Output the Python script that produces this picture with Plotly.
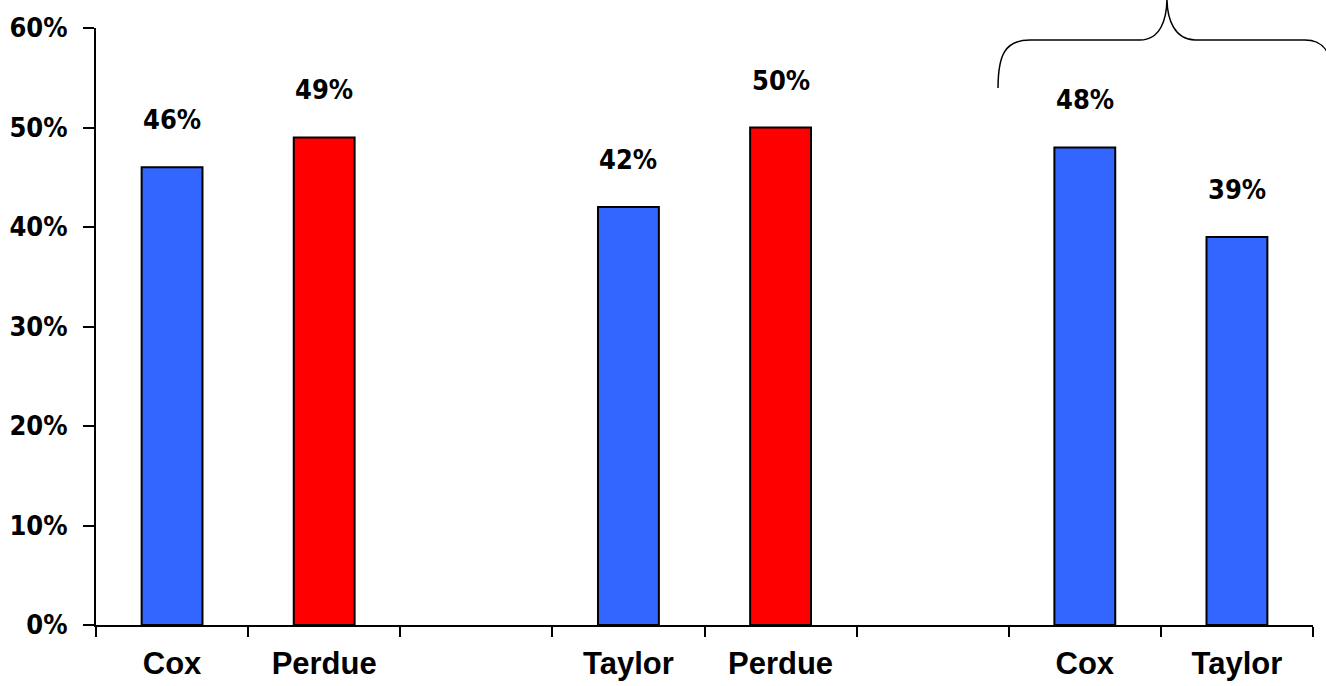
import plotly.graph_objects as go

# ---- data ----
labels = ["Cox", "Perdue", "", "Taylor", "Perdue", "", "Cox", "Taylor"]
values = [46, 49, None, 42, 50, None, 48, 39]
colors = ["#3366FF", "#FF0000", "#FFFFFF", "#3366FF", "#FF0000", "#FFFFFF", "#3366FF", "#3366FF"]
y_ticks = [0, 10, 20, 30, 40, 50, 60]

# unique category keys (zero-width spaces keep duplicate labels distinct)
seen = {}
cats = []
for lab in labels:
    n = seen.get(lab, 0)
    seen[lab] = n + 1
    cats.append((lab if lab else "\u200b") + "\u200b" * n)

W, H = 1326, 686
L, R, T, B = 96, 13, 28, 61

fig = go.Figure()
fig.add_trace(go.Bar(
    x=cats, y=values,
    marker=dict(color=colors, line=dict(color="black", width=2)),
    width=0.4, hoverinfo="skip",
))

val_font = dict(family="DejaVu Sans Condensed, DejaVu Sans, sans-serif", size=27, color="black")
for c, v in zip(cats, values):
    if v is None:
        continue
    fig.add_annotation(x=c, y=v, xref="x", yref="y", text=f"<b>{v}%</b>",
                       showarrow=False, yanchor="bottom", yshift=30, font=val_font)

# curly brace decoration (pixel -> paper)
def px(x, y):
    return f"{(x - L) / (W - L - R):.4f},{(H - B - y) / (H - T - B):.4f}"

path = (f"M {px(998, 88)} C {px(998, 55)} {px(1005, 40)} {px(1030, 40)} "
        f"L {px(1140, 40)} C {px(1160, 40)} {px(1167, 20)} {px(1167, -2)} "
        f"C {px(1167, 20)} {px(1175, 40)} {px(1195, 40)} "
        f"L {px(1305, 40)} C {px(1322, 40)} {px(1330, 50)} {px(1332, 70)}")
fig.add_shape(type="path", xref="paper", yref="paper", path=path,
              line=dict(color="black", width=1.5))

fig.update_layout(
    width=W, height=H,
    margin=dict(l=L, r=R, t=T, b=B, pad=0, autoexpand=False),
    paper_bgcolor="white", plot_bgcolor="white",
    showlegend=False,
    bargap=0.6,
)
fig.update_xaxes(
    type="category", categoryorder="array", categoryarray=cats,
    range=[-0.5, len(cats) - 0.5], automargin=False,
    showline=True, linecolor="black", linewidth=2,
    ticks="outside", tickson="boundaries", ticklen=10, tickwidth=1.5, tickcolor="black",
    tickfont=dict(family="Liberation Sans, Arial, sans-serif", size=31, color="black"),
    ticklabelstandoff=10,
    showgrid=False, zeroline=False,
    ticktext=[f"<b>{l}</b>" for l in labels], tickvals=cats,
)
fig.update_yaxes(
    range=[0, 60], tickvals=y_ticks, ticktext=[f"<b>{t}%</b>" for t in y_ticks],
    automargin=False,
    showline=True, linecolor="black", linewidth=2,
    ticks="outside", ticklen=11, tickwidth=1.5, tickcolor="black",
    tickfont=dict(family="DejaVu Sans Condensed, DejaVu Sans, sans-serif", size=27, color="black"),
    ticklabelstandoff=10,
    showgrid=False, zeroline=False,
)

fig.write_html("out.html", config={"displayModeBar": False},
               post_script="document.body.style.margin='0';document.body.style.overflow='hidden';")
